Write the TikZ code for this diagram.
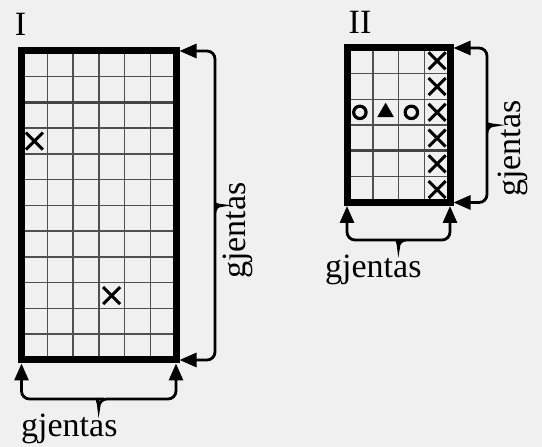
\documentclass[tikz,border=0pt]{standalone}
\usepackage{fontspec}
\setmainfont{Liberation Serif}
\newfontfamily\gjfont{Liberation Serif}
\usepackage{tikz}
\usetikzlibrary{arrows.meta,shapes.geometric,shapes.misc,calc}
\definecolor{paper}{HTML}{F0F0F0}
\definecolor{cellgray}{HTML}{505050}
\newcommand\Cell{25.75}
\tikzset{
  frame/.style={
    draw,
    line width=7pt,
    inner sep=0,
    outer sep=0
  },
  cellline/.style={
    draw=cellgray,
    line width=1.5pt
  },
  divider/.style={
    draw=cellgray!85!black,
    line width=3pt
  },
}
\tikzset{
  crossmark/.style={
    cross out,
    draw,
    line width=3pt,
    minimum size=14pt,
    inner sep=0
  },
  ring/.style={
    shape=circle,
    draw,
    line width=3.2pt,
    minimum size=12.4pt,
    inner sep=0
  },
  pawn/.style={
    regular polygon,
    regular polygon sides=3,
    fill,
    minimum size=19.5pt,
    inner sep=0
  },
}
\tikzset{
  brace/.style={
    line width=2.8pt,
    {Triangle[length=17pt,width=14pt]}-{Triangle[length=17pt,width=14pt]},
    shorten <=3.5pt,
    shorten >=3.5pt
  },
  lbl/.style={
    font=\gjfont\fontsize{34}{40}\selectfont,
    inner sep=0
  },
}

\begin{document}
\begin{tikzpicture}[x=1pt,y=1pt]
    \fill[paper] (0,0) rectangle (542,447);
    \useasboundingbox (0,0) rectangle (542,447);

    % board I
    \begin{scope}[shift={(21.5,87)}]
        \foreach \c in {1,...,5}
            \draw[cellline] ({\c*\Cell},0) --++ (0,{12*\Cell});
        \foreach \r in {1,...,11}
            \draw[cellline] (0,{\r*\Cell}) --++ ({6*\Cell},0);
        \draw[divider] (0,{10*\Cell}) --++ ({6*\Cell},0);
        \node[frame, anchor=south west, minimum width={6*\Cell pt}, minimum height={12*\Cell pt}] (gridI) at (0,0) {};
        \node[crossmark] (xI1) at ({0.5*\Cell},{8.5*\Cell}) {};
        \node[crossmark] (xI2) at ({3.5*\Cell},{2.5*\Cell}) {};
    \end{scope}
    \node[lbl, anchor=base] (labI) at (20.5,411) {I};

    % board II
    \begin{scope}[shift={(347,244.5)}]
        \foreach \c in {1,...,3}
            \draw[cellline] ({\c*\Cell},0) --++ (0,{6*\Cell});
        \foreach \r in {1,...,5}
            \draw[cellline] (0,{\r*\Cell}) --++ ({4*\Cell},0);
        \draw[divider] (0,{2*\Cell}) --++ ({4*\Cell},0);
        \node[frame, anchor=south west, minimum width={4*\Cell pt}, minimum height={6*\Cell pt}] (gridII) at (0,0) {};
        \node[crossmark] (xII1) at ({3.5*\Cell},{0.5*\Cell}) {};
        \node[crossmark] (xII2) at ({3.5*\Cell},{1.5*\Cell}) {};
        \node[crossmark] (xII3) at ({3.5*\Cell},{2.5*\Cell}) {};
        \node[crossmark] (xII4) at ({3.5*\Cell},{3.5*\Cell}) {};
        \node[crossmark] (xII5) at ({3.5*\Cell},{4.5*\Cell}) {};
        \node[crossmark] (xII6) at ({3.5*\Cell},{5.5*\Cell}) {};
        \node[ring] (oL) at ({0.5*\Cell},{3.5*\Cell}) {};
        \node[pawn] (tri) at ({1.5*\Cell},{3.5*\Cell}) {};
        \node[ring] (oR) at ({2.5*\Cell},{3.5*\Cell}) {};
    \end{scope}
    \node[lbl, anchor=base] (labII) at (360,413) {II};

    % braces
    \draw[brace, rounded corners=8pt] (gridI.north east) -| ($(gridI.east)+(39,8)$) [sharp corners]
        .. controls +(0,-5) and +(-5,0) .. ++(7,-8) .. controls +(-5,0) and +(0,5) .. ++(-7,-8)
        [rounded corners=8pt] |- (gridI.south east);
    \draw[brace, rounded corners=8pt] (gridI.south west) |- ($(gridI.south)+(-8,-39)$) [sharp corners]
        .. controls +(5,0) and +(0,5) .. ++(8,-9) .. controls +(0,5) and +(-5,0) .. ++(8,9)
        [rounded corners=8pt] -| (gridI.south east);
    \draw[brace, rounded corners=8pt] (gridII.north east) -| ($(gridII.east)+(37,8)$) [sharp corners]
        .. controls +(0,-5) and +(-5,0) .. ++(8,-8) .. controls +(-5,0) and +(0,5) .. ++(-8,-8)
        [rounded corners=8pt] |- (gridII.south east);
    \draw[brace, rounded corners=8pt] (gridII.south west) |- ($(gridII.south)+(-8,-37.5)$) [sharp corners]
        .. controls +(5,0) and +(0,5) .. ++(8,-8) .. controls +(0,5) and +(-5,0) .. ++(8,8)
        [rounded corners=8pt] -| (gridII.south east);

    \node[lbl, anchor=base west, rotate=90] (gjIr) at (245.5,168) {gjentas};
    \node[lbl, anchor=base west] (gjIb) at (21,10) {gjentas};
    \node[lbl, anchor=base west, rotate=90] (gjIIr) at (520.5,250) {gjentas};
    \node[lbl, anchor=base west] (gjIIb) at (325,169) {gjentas};
\end{tikzpicture}
\end{document}
